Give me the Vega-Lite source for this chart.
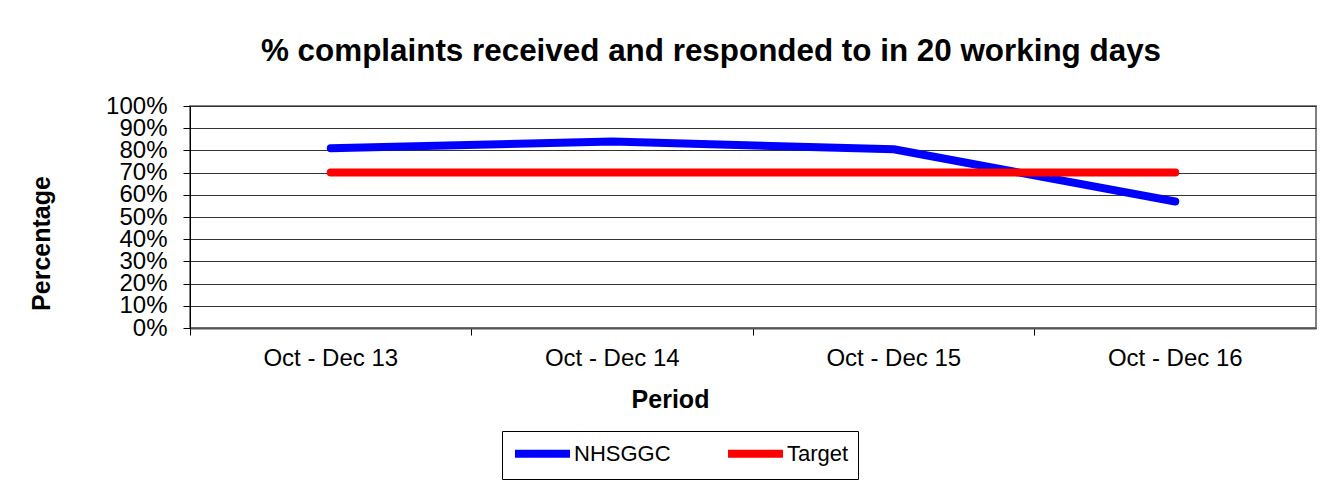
{
  "$schema": "https://vega.github.io/schema/vega-lite/v6.json",
  "width": 1126,
  "height": 222,
  "autosize": {"type": "none"},
  "padding": {"left": 190, "top": 106, "right": 14, "bottom": 154},
  "background": "white",
  "title": {
    "text": "% complaints received and responded to in 20 working days",
    "font": "Liberation Sans",
    "fontSize": 31.4,
    "fontWeight": "bold",
    "color": "#000000",
    "anchor": "middle",
    "frame": "group",
    "baseline": "alphabetic",
    "offset": 2,
    "dx": -42
  },
  "data": {
    "values": [
      {"period": "Oct - Dec 13", "series": "NHSGGC", "value": 81},
      {"period": "Oct - Dec 14", "series": "NHSGGC", "value": 84},
      {"period": "Oct - Dec 15", "series": "NHSGGC", "value": 80.5},
      {"period": "Oct - Dec 16", "series": "NHSGGC", "value": 57},
      {"period": "Oct - Dec 13", "series": "Target", "value": 70},
      {"period": "Oct - Dec 14", "series": "Target", "value": 70},
      {"period": "Oct - Dec 15", "series": "Target", "value": 70},
      {"period": "Oct - Dec 16", "series": "Target", "value": 70}
    ]
  },
  "mark": {"type": "line", "strokeWidth": 8, "strokeCap": "round", "strokeJoin": "round"},
  "encoding": {
    "x": {
      "field": "period",
      "type": "nominal",
      "bandPosition": 0.5,
      "sort": null,
      "scale": {"type": "band", "paddingInner": 0, "paddingOuter": 0},
      "axis": {
        "title": "Period",
        "bandPosition": 0,
        "labelAngle": 0,
        "labelFont": "Liberation Sans",
        "labelFontSize": 24,
        "labelColor": "#000000",
        "labelBaseline": "alphabetic",
        "labelPadding": 30,
        "tickSize": 7,
        "tickColor": "#000000",
        "domainColor": "#555555",
        "domainWidth": 2,
        "grid": false,
        "titleFont": "Liberation Sans",
        "titleFontSize": 25,
        "titleFontWeight": "bold",
        "titleColor": "#000000",
        "titleX": 480,
        "titleY": 79,
        "titleBaseline": "alphabetic",
        "titleAlign": "center"
      }
    },
    "y": {
      "field": "value",
      "type": "quantitative",
      "scale": {"domain": [0, 100], "nice": false, "zero": true},
      "axis": {
        "title": "Percentage",
        "values": [0, 10, 20, 30, 40, 50, 60, 70, 80, 90, 100],
        "labelExpr": "datum.value + '%'",
        "labelFont": "Liberation Sans",
        "labelFontSize": 24,
        "labelColor": "#000000",
        "labelBaseline": "middle",
        "labelPadding": 16,
        "labelOverlap": false,
        "labelFlush": false,
        "tickSize": 7,
        "tickColor": "#000000",
        "domainColor": "#000000",
        "domainWidth": 1,
        "grid": true,
        "gridColor": "#333333",
        "gridWidth": 1,
        "titleFont": "Liberation Sans",
        "titleFontSize": 25,
        "titleFontWeight": "bold",
        "titleColor": "#000000",
        "titleAngle": -90,
        "titleX": -141,
        "titleY": 137,
        "titleBaseline": "alphabetic",
        "titleAlign": "center"
      }
    },
    "color": {
      "field": "series",
      "type": "nominal",
      "scale": {"domain": ["NHSGGC", "Target"], "range": ["#0000FF", "#FF0000"]},
      "legend": {
        "title": null,
        "orient": "none",
        "direction": "horizontal",
        "legendX": 312,
        "legendY": 325,
        "padding": 9,
        "strokeColor": "#000000",
        "fillColor": "#FFFFFF",
        "symbolType": "M-3,0L3,0",
        "symbolSize": 336,
        "symbolStrokeWidth": 8,
        "symbolOffset": 18,
        "labelFont": "Liberation Sans",
        "labelFontSize": 22,
        "labelColor": "#000000",
        "labelOffset": 18,
        "columnPadding": 41
      }
    }
  },
  "config": {
    "view": {"stroke": "#808080", "strokeWidth": 2}
  }
}
